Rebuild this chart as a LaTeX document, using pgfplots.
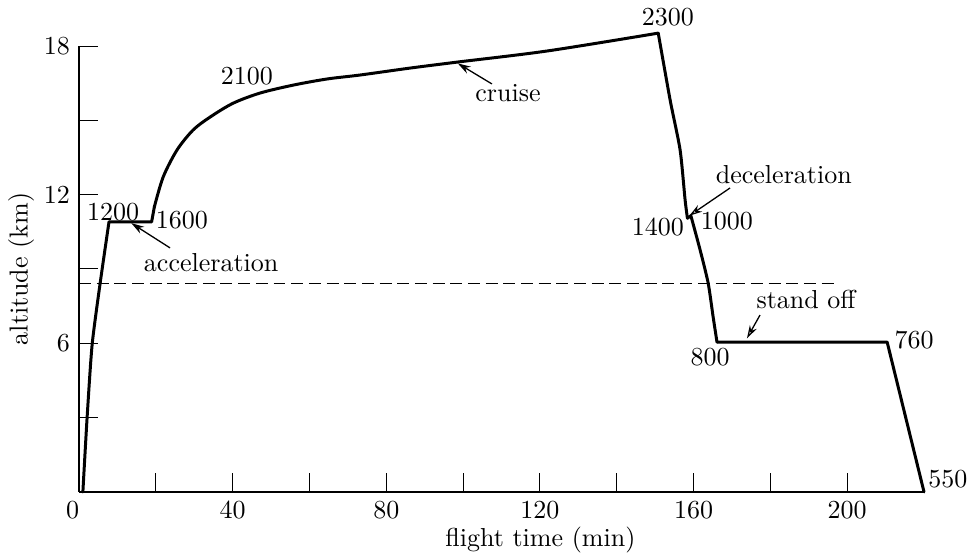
\documentclass[border=0pt]{standalone}
\usepackage{pgfplots}
\pgfplotsset{compat=1.18}
\usetikzlibrary{arrows.meta}
\begin{document}
\begin{tikzpicture}
\begin{axis}[
  scale only axis,
  width=325pt, height=171.5pt,
  xmin=0, xmax=220, ymin=0, ymax=18,
  axis lines*=left,
  axis line style={-, line width=0.6pt},
  x axis line style={-}, y axis line style={-},
  clip=false,
  tick align=inside,
  xtick={0,20,...,200},
  xticklabels={\makebox[0pt][r]{0},,40,,80,,120,,160,,200},
  ytick={3,6,...,18},
  yticklabels={,6,,12,,18},
  major tick length=7.3pt,
  tick style={line width=0.4pt, black},
  xlabel={flight time (min)},
  ylabel={altitude (km)},
  every axis x label/.style={at={(axis description cs:0.546,-0.108)},anchor=center},
  every axis y label/.style={at={(axis description cs:-0.0686,0.5)},rotate=90,anchor=center},
  flight/.style={black, line width=1.15pt, line join=round, line cap=round},
]
% climb
\addplot[flight, smooth, tension=0.4] coordinates {
(1.0,0) (2.1,3.0) (3.4,5.93) (5.5,8.43) (7.8,10.9)};
% acceleration plateau
\addplot[flight] coordinates {(7.8,10.9) (18.9,10.9) (19.6,11.5)};
% climb to cruise and cruise
\addplot[flight, smooth, tension=0.5] coordinates {
(19.6,11.5) (21.9,12.71) (25.5,13.80) (29.7,14.61) (34.1,15.13) (40.1,15.69)
(47.1,16.10) (55.7,16.42) (64.6,16.67) (73.2,16.83) (86.2,17.11) (98.4,17.35)
(121.9,17.80) (150.8,18.52)};
% deceleration
\addplot[flight, smooth, tension=0.4] coordinates {
(150.8,18.52) (153.9,15.82) (156.5,13.80) (157.8,11.78) (158.4,11.05)};
\addplot[flight] coordinates {(158.4,11.05) (159.3,11.15)};
\addplot[flight, smooth, tension=0.4] coordinates {
(159.3,11.15) (161.7,9.77) (163.8,8.43) (165.1,7.06) (166.1,6.05)};
% stand off and final descent
\addplot[flight] coordinates {(166.1,6.05) (210.4,6.05) (220,0)};
% reference altitude
\addplot[black, line width=0.5pt, dash pattern=on 4.6pt off 2.2pt] coordinates {(0,8.4) (197.5,8.4)};

\coordinate (LL) at (rel axis cs:0,0);
\coordinate (UR) at (rel axis cs:1,1);

\node at (axis cs:8.85,11.3) {1200};
\node at (axis cs:26.8,10.98) {1600};
\node at (axis cs:34.4,9.24) {acceleration};
\draw[-{Stealth[length=5pt,width=3pt]}, line width=0.5pt] (axis cs:23.7,9.85) -- (axis cs:13.6,10.85);
\node at (axis cs:43.7,16.79) {2100};
\node at (axis cs:111.7,16.1) {cruise};
\draw[-{Stealth[length=5pt,width=3pt]}, line width=0.5pt] (axis cs:107.5,16.47) -- (axis cs:98.6,17.3);
\node at (axis cs:153.3,19.17) {2300};
\node at (axis cs:183.5,12.8) {deceleration};
\draw[-{Stealth[open,length=5pt,width=3pt]}, line width=0.5pt] (axis cs:169.5,12.27) -- (axis cs:158.9,11.15);
\node at (axis cs:150.7,10.69) {1400};
\node at (axis cs:168.7,10.94) {1000};
\node at (axis cs:189.3,7.75) {stand off};
\draw[-{Stealth[open,length=5pt,width=3pt]}, line width=0.5pt] (axis cs:177.3,7.14) -- (axis cs:173.9,6.2);
\node at (axis cs:164.3,5.45) {800};
\node at (axis cs:217.4,6.13) {760};
\node at (axis cs:226.2,0.52) {550};
\end{axis}
\pgfresetboundingbox
\useasboundingbox ([shift={(-30.4pt,-25.8pt)}]LL) rectangle ([shift={(17.3pt,17.7pt)}]UR);
\end{tikzpicture}
\end{document}
